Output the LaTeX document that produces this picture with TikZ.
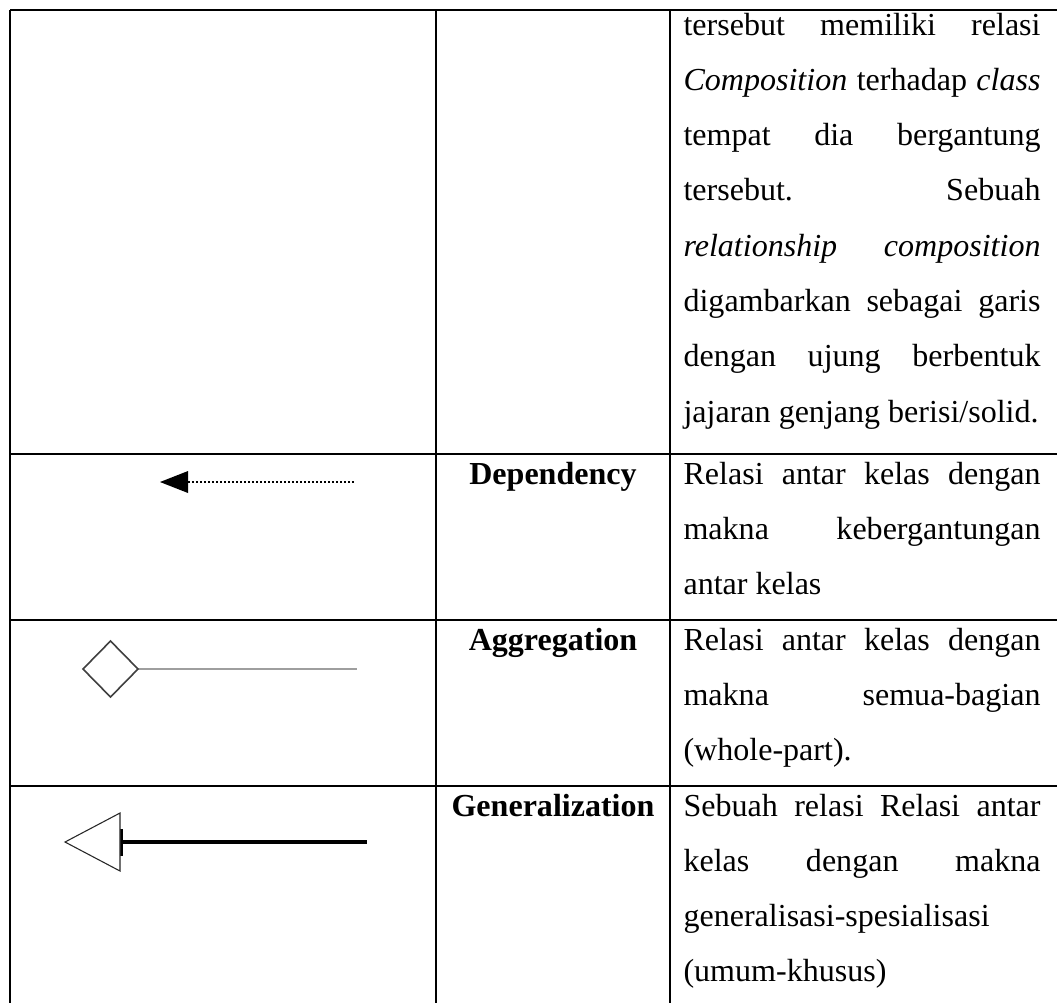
\documentclass[tikz,border=0pt]{standalone}
\usepackage{fontspec}
\setmainfont{Liberation Serif}
\newcommand{\jline}[1]{\makebox[133.7pt][s]{#1}}
\begin{document}
\begin{tikzpicture}[x=0.3745pt,y=-0.3745pt,
  rule/.style={line width=0.75pt, black},
  celltext/.style={anchor=base west, inner sep=0pt, font=\fontsize{12pt}{14pt}\selectfont},
  rowlabel/.style={anchor=base, inner sep=0pt, font=\fontsize{12pt}{14pt}\selectfont\bfseries}]
\useasboundingbox (0,0) rectangle (1057,1003);
\fill[white] (0,0) rectangle (1057,1003);

% table rules
\draw[rule] (10,10) -- (1057,10);
\draw[rule] (10,454) -- (1057,454);
\draw[rule] (10,620) -- (1057,620);
\draw[rule] (10,786) -- (1057,786);
\draw[rule] (10,10) -- (10,1003);
\draw[rule] (436,10) -- (436,1003);
\draw[rule] (670,10) -- (670,1003);

% row 1, description (continued)
\node[celltext] (r1a) at (683,35)    {\jline{tersebut memiliki relasi}};
\node[celltext] (r1b) at (683,90.3)  {\jline{\textit{Composition} terhadap \textit{class}}};
\node[celltext] (r1c) at (683,145.6) {\jline{tempat dia bergantung}};
\node[celltext] (r1d) at (683,200.9) {\jline{tersebut. Sebuah}};
\node[celltext] (r1e) at (683,256.2) {\jline{\textit{relationship composition}}};
\node[celltext] (r1f) at (683,311.5) {\jline{digambarkan sebagai garis}};
\node[celltext] (r1g) at (683,366.8) {\jline{dengan ujung berbentuk}};
\node[celltext] (r1h) at (683,422.1) {jajaran genjang berisi/solid.};

% row 2: dependency
\node[rowlabel] (depname) at (553,484) {Dependency};
\node[celltext] (r2a) at (683,484)   {\jline{Relasi antar kelas dengan}};
\node[celltext] (r2b) at (683,539.3) {\jline{makna kebergantungan}};
\node[celltext] (r2c) at (683,594.6) {antar kelas};
\coordinate (deptip) at (160,482);
\coordinate (depend) at (355,482);
\fill[black] (deptip) -- (188,471) -- (188,493) -- cycle;
\draw[line width=1.1pt, dash pattern=on 0.75pt off 0.75pt] (188,482) -- (depend);

% row 3: aggregation
\node[rowlabel] (aggname) at (553,650) {Aggregation};
\node[celltext] (r3a) at (683,650)   {\jline{Relasi antar kelas dengan}};
\node[celltext] (r3b) at (683,705.3) {\jline{makna semua-bagian}};
\node[celltext] (r3c) at (683,760.6) {(whole-part).};
\coordinate (aggtip) at (138,669);
\coordinate (aggend) at (357,669);
\draw[line width=1.1pt, draw=black!38] (aggtip) -- (aggend);
\draw[line width=0.6pt, draw=black!75, fill=white] (83,669) -- (110.5,641) -- (aggtip) -- (110.5,697) -- cycle;

% row 4: generalization
\node[rowlabel] (genname) at (553,816) {Generalization};
\node[celltext] (r4a) at (683,816)   {\jline{Sebuah relasi Relasi antar}};
\node[celltext] (r4b) at (683,871.3) {\jline{kelas dengan makna}};
\node[celltext] (r4c) at (683,926.6) {generalisasi-spesialisasi};
\node[celltext] (r4d) at (683,981.9) {(umum-khusus)};
\coordinate (gentip) at (65,842);
\coordinate (genend) at (367,842);
\draw[line width=1.15pt, black] (121,842) -- (genend);
\draw[line width=0.8pt, black] (121.5,829) -- (121.5,856);
\draw[line width=0.4pt, draw=black!85, fill=white] (gentip) -- (120,813) -- (120,871) -- cycle;
\end{tikzpicture}
\end{document}
